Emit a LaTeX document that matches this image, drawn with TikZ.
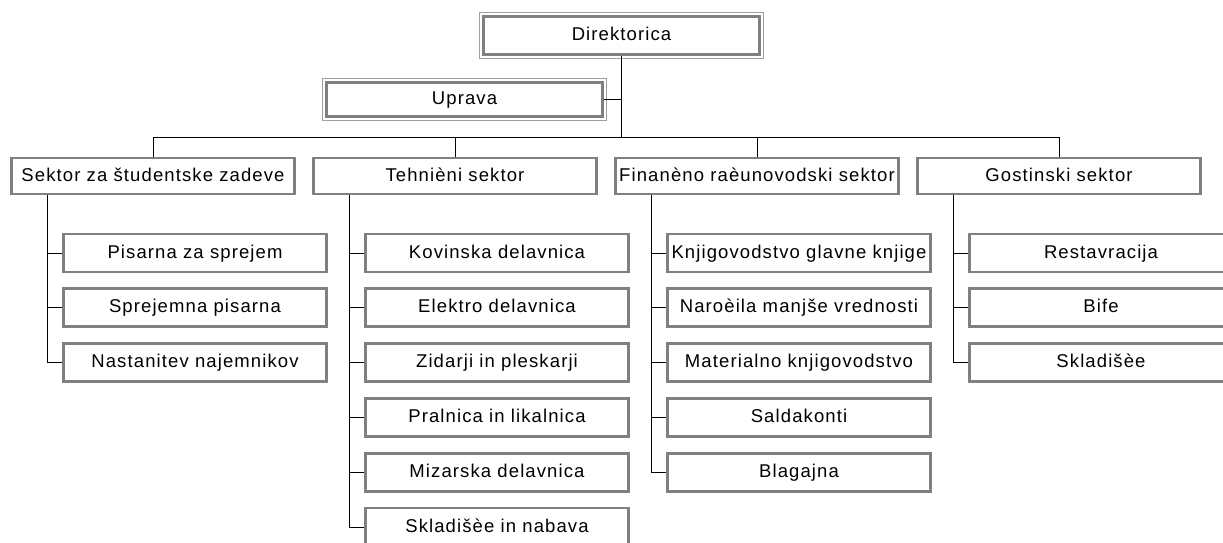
\documentclass[tikz,border=0pt]{standalone}
\usepackage{fontspec}
\setmainfont{Liberation Sans}[LetterSpace=6]
\usetikzlibrary{calc}
\definecolor{boxgray}{RGB}{128,128,128}
\definecolor{lightgray2}{RGB}{160,160,160}
\tikzset{
  orgbox/.style={draw=boxgray, line width=2.8pt, fill=white, inner sep=0pt,
    font=\fontsize{18.5}{22}\selectfont, text=black, align=center,
    text height=13.5pt, text depth=3.5pt},
  secbox/.style={orgbox, minimum width=283pt, minimum height=36pt},
  childbox/.style={orgbox, minimum width=263pt, minimum height=38pt},
  topbox/.style={orgbox, minimum width=276pt},
  conn/.style={draw=black, line width=0.9pt},
  outerline/.style={draw=lightgray2, line width=1.1pt}
}
\begin{document}
\begin{tikzpicture}[x=1pt,y=-1pt]
\useasboundingbox (0,0) rectangle (1223,542);
\clip (0,0) rectangle (1223,542);
% top
\node[topbox, minimum height=38pt] (dir) at (621.5,35.5) {Direktorica};
\draw[outerline] ($(dir.north west)+(-2.5,-2.5)$) rectangle ($(dir.south east)+(2.5,2.5)$);
\node[topbox, minimum height=34pt] (upr) at (464.5,99.5) {Uprava};
\draw[outerline] ($(upr.north west)+(-2.5,-2.5)$) rectangle ($(upr.south east)+(2.5,2.5)$);
\coordinate (bus) at (622,137);
% sectors
\node[secbox] (s1) at (153,176) {Sektor za študentske zadeve};
\node[secbox] (s2) at (455,176) {Tehnièni sektor};
\node[secbox] (s3) at (757,176) {Finanèno raèunovodski sektor};
\node[secbox] (s4) at (1059,176) {Gostinski sektor};
% connectors top
\draw[conn] (dir.south) -- (dir.south |- bus);
\draw[conn] (upr.east) -- (upr.east -| dir.south);
\draw[conn] (s1.north |- bus) -- (s4.north |- bus);
\foreach \s in {s1,s2,s3,s4} \draw[conn] (\s.north) -- (\s.north |- bus);
% children sector 1
\node[childbox] (a1) at (195,253) {Pisarna za sprejem};
\node[childbox] (a2) at (195,307.8) {Sprejemna pisarna};
\node[childbox] (a3) at (195,362.6) {Nastanitev najemnikov};
% children sector 2
\node[childbox] (b1) at (497,253) {Kovinska delavnica};
\node[childbox] (b2) at (497,307.8) {Elektro delavnica};
\node[childbox] (b3) at (497,362.6) {Zidarji in pleskarji};
\node[childbox] (b4) at (497,417.4) {Pralnica in likalnica};
\node[childbox] (b5) at (497,472.2) {Mizarska delavnica};
\node[childbox] (b6) at (497,527) {Skladišèe in nabava};
% children sector 3
\node[childbox] (c1) at (799,253) {Knjigovodstvo glavne knjige};
\node[childbox] (c2) at (799,307.8) {Naroèila manjše vrednosti};
\node[childbox] (c3) at (799,362.6) {Materialno knjigovodstvo};
\node[childbox] (c4) at (799,417.4) {Saldakonti};
\node[childbox] (c5) at (799,472.2) {Blagajna};
% children sector 4
\node[childbox] (d1) at (1101,253) {Restavracija};
\node[childbox] (d2) at (1101,307.8) {Bife};
\node[childbox] (d3) at (1101,362.6) {Skladišèe};
% child connector spines
\coordinate (v1) at (47,0);
\coordinate (v2) at (349,0);
\coordinate (v3) at (651,0);
\coordinate (v4) at (953,0);
\draw[conn] (v1 |- s1.south) -- (v1 |- a3.west) -- (a3.west);
\draw[conn] (v2 |- s2.south) -- (v2 |- b6.west) -- (b6.west);
\draw[conn] (v3 |- s3.south) -- (v3 |- c5.west) -- (c5.west);
\draw[conn] (v4 |- s4.south) -- (v4 |- d3.west) -- (d3.west);
\foreach \n in {a1,a2} \draw[conn] (v1 |- \n.west) -- (\n.west);
\foreach \n in {b1,b2,b3,b4,b5} \draw[conn] (v2 |- \n.west) -- (\n.west);
\foreach \n in {c1,c2,c3,c4} \draw[conn] (v3 |- \n.west) -- (\n.west);
\foreach \n in {d1,d2} \draw[conn] (v4 |- \n.west) -- (\n.west);
\end{tikzpicture}
\end{document}
